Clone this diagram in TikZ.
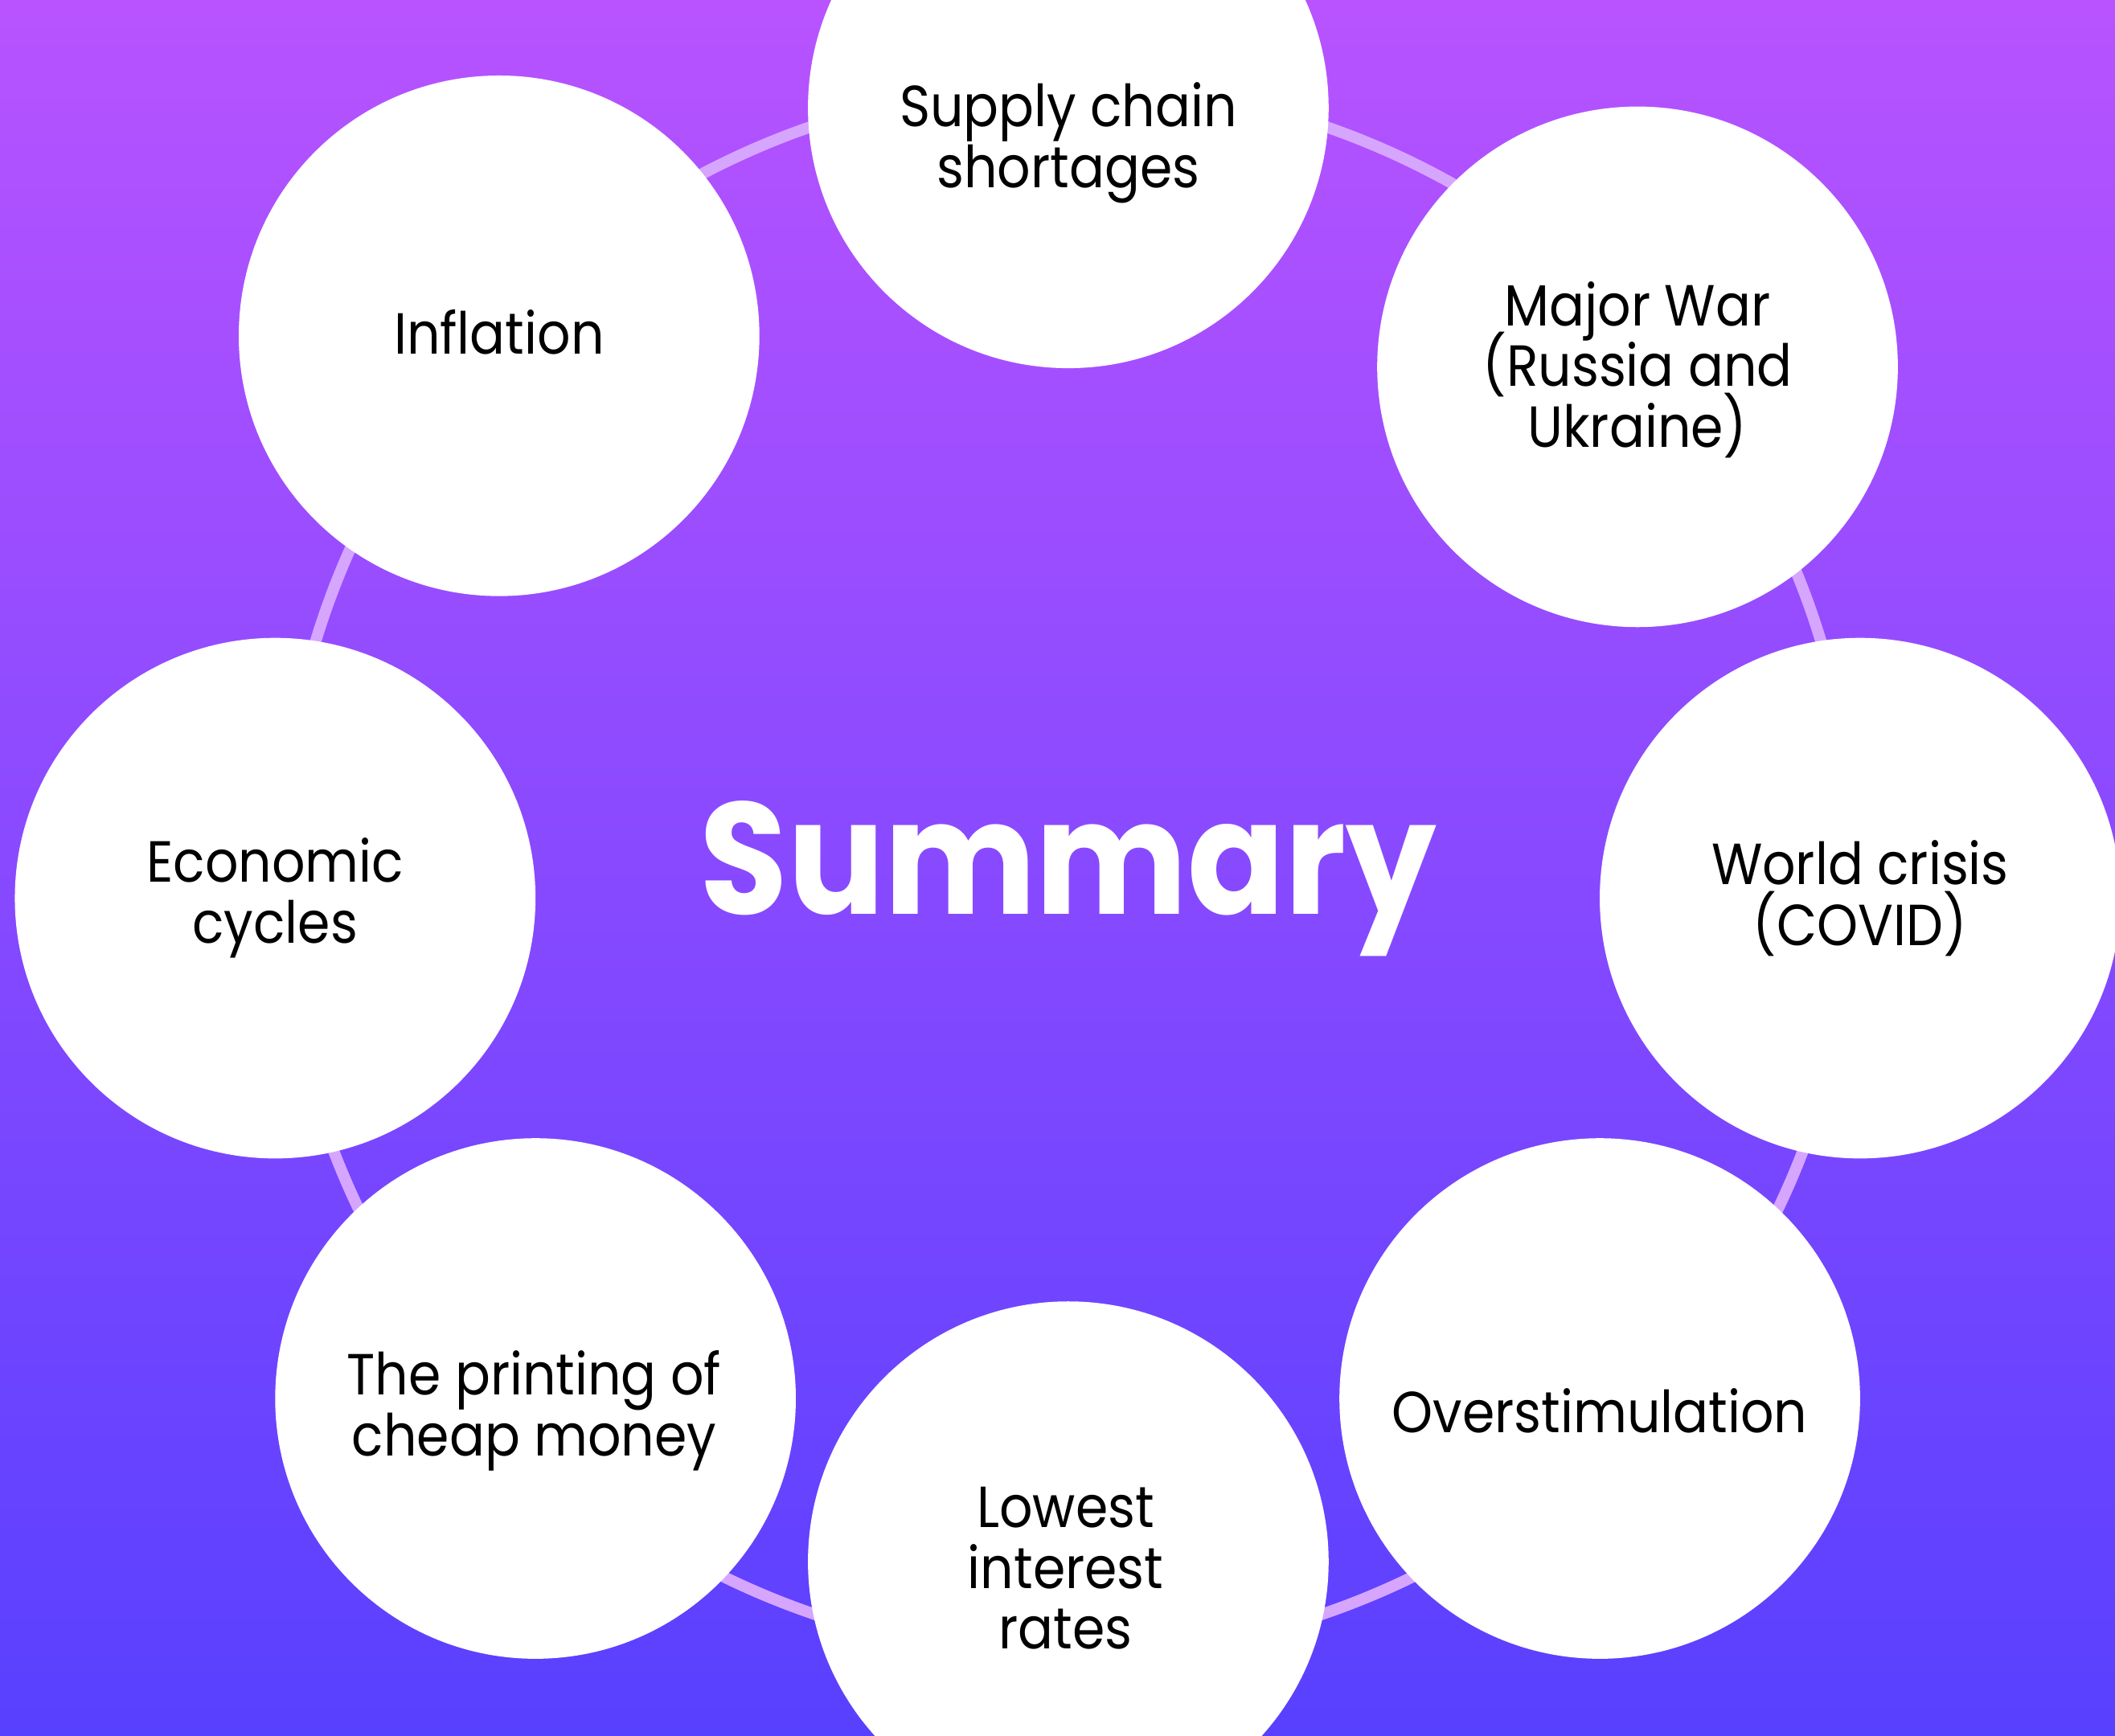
\documentclass[tikz,border=0pt]{standalone}
\usepackage{fontspec}
\setmainfont{Poppins}[FakeStretch=0.9]
\definecolor{bgtop}{HTML}{B853FF}
\definecolor{bgmid}{HTML}{884AFF}
\definecolor{bgbot}{HTML}{5840FF}
\definecolor{ringc}{HTML}{D6A6FF}
\newcommand\mytxtfont{\fontsize{21.5}{22.5}\selectfont\lineskiplimit=-100pt\relax}
\newcommand\mytitlefont{\bfseries\fontsize{59}{59}\selectfont}
\tikzset{
  bub/.style={circle, fill=white, minimum size=193pt, inner sep=0pt},
  txt/.style={align=center, text=black, font=\mytxtfont},
  ringline/.style={draw=ringc, line width=4.2pt},
  title/.style={text=white, font=\mytitlefont, anchor=base}
}
\begin{document}
\begin{tikzpicture}[x=0.5pt,y=-0.5pt]
\useasboundingbox (0,0) rectangle (1568,1287);
\shade[top color=bgtop, middle color=bgmid, bottom color=bgbot] (0,0) rectangle (1568,1287);
\coordinate (ctr) at (792,645);
\draw[ringline] (ctr) circle[radius=583];
\node[bub] (supply) at (792,80) {};
\node[bub] (war) at (1214,272) {};
\node[bub] (world) at (1379,666) {};
\node[bub] (over) at (1186,1037) {};
\node[bub] (low) at (792,1158) {};
\node[bub] (print) at (397,1037) {};
\node[bub] (econ) at (204,666) {};
\node[bub] (infl) at (370,249) {};
\node[txt] (tsupply) at (792,106) {Supply chain\\shortages};
\node[txt] (twar) at (1214,274) {Major War\\(Russia and\\Ukraine)};
\node[txt] (tworld) at (1379,666) {World crisis\\(COVID)};
\node[txt] (tover) at (1186,1046) {Overstimulation};
\node[txt] (tlow) at (790,1163) {Lowest\\interest\\rates};
\node[txt] (tprint) at (396,1046) {The printing of\\cheap money};
\node[txt] (tecon) at (204,666) {Economic\\cycles};
\node[txt] (tinfl) at (370,246) {Inflation};
\node[title] (sum) at (792,678) {Summary};
\end{tikzpicture}
\end{document}
